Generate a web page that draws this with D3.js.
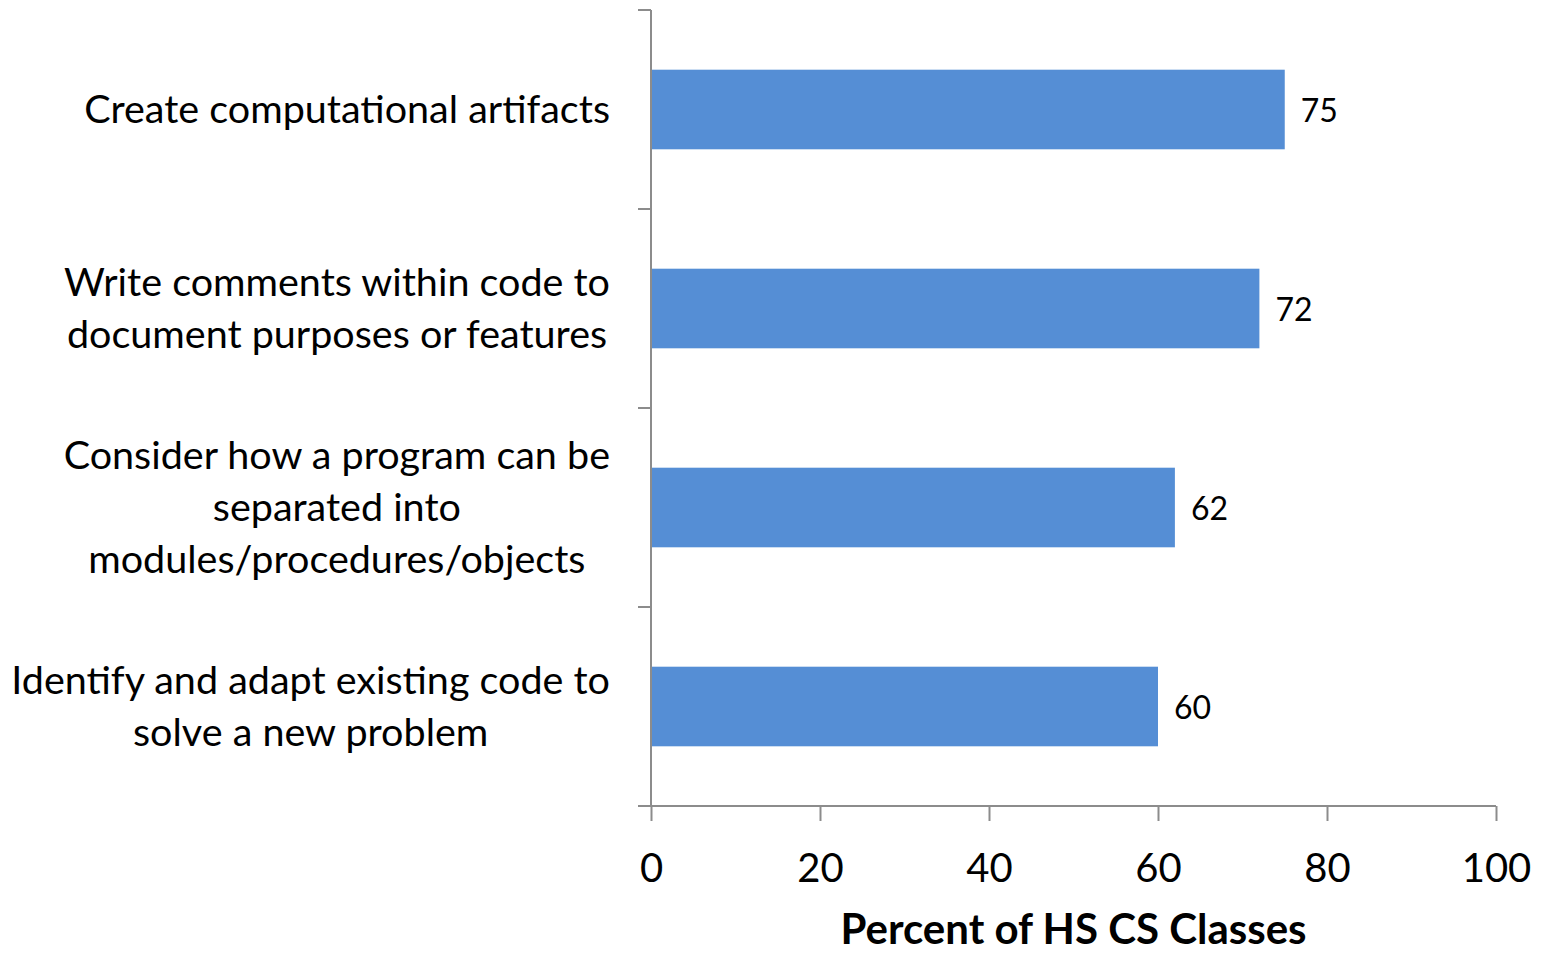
<!DOCTYPE html>
<html>
<head>
<meta charset="utf-8">
<script src="https://cdn.jsdelivr.net/npm/d3@7"></script>
<style>
  body { margin: 0; background: #fff; }
  text { font-family: Lato, "Open Sans", sans-serif; fill: #000; }
</style>
</head>
<body>
<svg id="chart" width="1548" height="953"></svg>
<script>
// chart data
var categories = [
    ["Create computational artifacts"],
    ["Write comments within code to", "document purposes or features"],
    ["Consider how a program can be", "separated into", "modules/procedures/objects"],
    ["Identify and adapt existing code to", "solve a new problem"]
];
var values = [75, 72, 62, 60];
var xTicks = [0, 20, 40, 60, 80, 100];
var xTitle = "Percent of HS CS Classes";

var svg = d3.select('#chart');
var plotLeft = 651, plotRight = 1496, plotTop = 10, plotBottom = 806;
var axisColor = '#8c8c8c';

var x = d3.scaleLinear().domain([0, 100]).range([plotLeft, plotRight]);
var y = d3.scaleBand().domain(d3.range(values.length))
    .range([plotTop, plotBottom]).paddingInner(0.6).paddingOuter(0.3);

/* bars */
svg.selectAll('rect.bar').data(values).enter().append('rect')
    .attr('class', 'bar')
    .attr('x', x(0))
    .attr('y', function(d, i) { return y(i); })
    .attr('width', function(d) { return x(d) - x(0); })
    .attr('height', y.bandwidth())
    .attr('fill', '#558ed5');

/* value labels */
svg.selectAll('text.val').data(values).enter().append('text')
    .attr('class', 'val')
    .attr('x', function(d) { return x(d) + 16; })
    .attr('y', function(d, i) { return y(i) + y.bandwidth() / 2; })
    .attr('dy', '0.38em')
    .style('font-size', '32px')
    .text(function(d) { return d; });

/* x axis */
var xAxis = svg.append('g')
    .attr('transform', 'translate(0,' + plotBottom + ')')
    .call(d3.axisBottom(x).tickValues(xTicks).tickSize(15).tickSizeOuter(0));
xAxis.select('.domain').attr('stroke', axisColor).attr('stroke-width', 2)
    .attr('d', 'M' + (plotLeft - 13) + ',0H' + plotRight);
xAxis.selectAll('.tick line').attr('stroke', axisColor).attr('stroke-width', 2);
xAxis.selectAll('.tick text')
    .attr('y', 48)
    .style('font-size', '40px')
    .style('font-family', 'Lato, "Open Sans", sans-serif')
    .attr('fill', '#000');

/* y axis with separators between categories */
var step = (plotBottom - plotTop) / values.length;
var ySep = d3.range(values.length).map(function(i) { return plotTop + i * step; });
svg.append('line')
    .attr('x1', plotLeft).attr('x2', plotLeft)
    .attr('y1', plotTop).attr('y2', plotBottom)
    .attr('stroke', axisColor).attr('stroke-width', 2);
svg.selectAll('line.ytick').data(ySep).enter().append('line')
    .attr('class', 'ytick')
    .attr('x1', plotLeft - 13).attr('x2', plotLeft)
    .attr('y1', function(d) { return d; }).attr('y2', function(d) { return d; })
    .attr('stroke', axisColor).attr('stroke-width', 2);

/* category labels: block right aligned, lines centred in block */
var lineH = 52, labelRight = 610;
categories.forEach(function(lines, i) {
    var cy = y(i) + y.bandwidth() / 2;
    var t = svg.append('text')
        .attr('text-anchor', 'middle')
        .style('font-size', '39.5px');
    var spans = lines.map(function(s, j) {
        return t.append('tspan')
            .attr('y', cy + (j - (lines.length - 1) / 2) * lineH)
            .attr('dy', '0.35em')
            .text(s);
    });
    var maxW = d3.max(spans, function(sp) { return sp.node().getComputedTextLength(); });
    spans.forEach(function(sp) { sp.attr('x', labelRight - maxW / 2); });
});

/* axis title */
svg.append('text')
    .attr('x', (plotLeft + plotRight) / 2)
    .attr('y', 944)
    .attr('text-anchor', 'middle')
    .style('font-size', '42px')
    .style('font-weight', 'bold')
    .text(xTitle);
</script>
</body>
</html>
